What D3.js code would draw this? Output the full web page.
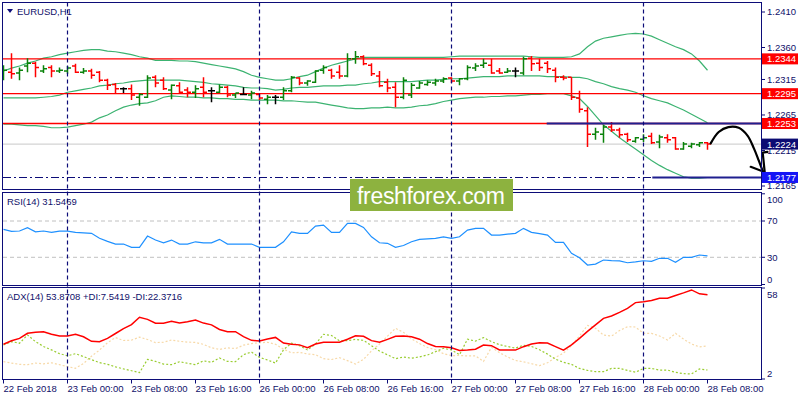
<!DOCTYPE html>
<html>
<head>
<meta charset="utf-8">
<script src="https://cdn.jsdelivr.net/npm/d3@7"></script>
<style>
  body { margin: 0; background: #ffffff; }
  svg { display: block; }
  text { font-family: "Liberation Sans", Arial, sans-serif; }
</style>
</head>
<body>
<div id="chart"></div>
<script>
// EURUSD H1 bars, 22 Feb 16:00 .. 28 Feb 08:00
var open = [1.2323,1.2325,1.2324,1.2334,1.2338,1.2327,1.2332,1.2327,1.2327,1.2334,
  1.2325,1.2327,1.2325,1.2314,1.2308,1.2302,1.2302,1.2290,1.2290,1.2318,
  1.2314,1.2300,1.2306,1.2300,1.2297,1.2304,1.2299,1.2297,1.2304,1.2293,
  1.2294,1.2293,1.2294,1.2287,1.2290,1.2290,1.2299,1.2317,1.2310,1.2311,
  1.2328,1.2328,1.2325,1.2320,1.2344,1.2347,1.2335,1.2320,1.2311,1.2304,
  1.2290,1.2293,1.2303,1.2308,1.2310,1.2313,1.2317,1.2313,1.2316,1.2331,
  1.2335,1.2335,1.2327,1.2325,1.2327,1.2324,1.2345,1.2338,1.2338,1.2328,
  1.2318,1.2318,1.2289,1.2271,1.2238,1.2238,1.2248,1.2244,1.2238,1.2228,
  1.2231,1.2235,1.2227,1.2233,1.2233,1.2217,1.2221,1.2223,1.2226];
var high = [1.2335,1.2352,1.2332,1.2345,1.2340,1.2335,1.2335,1.2332,1.2334,1.2337,
  1.2331,1.2330,1.2327,1.2316,1.2310,1.2304,1.2308,1.2296,1.2321,1.2321,
  1.2318,1.2308,1.2311,1.2304,1.2307,1.2318,1.2304,1.2308,1.2306,1.2296,
  1.2304,1.2299,1.2296,1.2293,1.2293,1.2304,1.2320,1.2318,1.2314,1.2328,
  1.2335,1.2330,1.2335,1.2352,1.2355,1.2349,1.2338,1.2327,1.2316,1.2311,
  1.2318,1.2310,1.2313,1.2314,1.2316,1.2318,1.2318,1.2317,1.2335,1.2338,
  1.2344,1.2344,1.2331,1.2331,1.2332,1.2347,1.2348,1.2344,1.2341,1.2332,
  1.2321,1.2318,1.2299,1.2276,1.2247,1.2251,1.2255,1.2247,1.2240,1.2234,
  1.2238,1.2240,1.2237,1.2238,1.2234,1.2227,1.2226,1.2227,1.2227];
var low = [1.2314,1.2316,1.2314,1.2325,1.2318,1.2324,1.2318,1.2324,1.2323,1.2324,
  1.2323,1.2316,1.2311,1.2300,1.2296,1.2296,1.2286,1.2278,1.2289,1.2304,
  1.2300,1.2287,1.2296,1.2290,1.2289,1.2290,1.2283,1.2296,1.2290,1.2289,
  1.2293,1.2287,1.2286,1.2280,1.2280,1.2286,1.2297,1.2307,1.2306,1.2310,
  1.2323,1.2316,1.2316,1.2318,1.2337,1.2335,1.2320,1.2304,1.2297,1.2276,
  1.2287,1.2289,1.2302,1.2306,1.2306,1.2310,1.2310,1.2307,1.2314,1.2327,
  1.2331,1.2323,1.2323,1.2324,1.2318,1.2321,1.2327,1.2327,1.2324,1.2311,
  1.2314,1.2286,1.2268,1.2220,1.2230,1.2226,1.2241,1.2233,1.2227,1.2226,
  1.2227,1.2224,1.2218,1.2226,1.2216,1.2216,1.2218,1.2220,1.2216];
var close = [1.2328,1.2323,1.2328,1.2338,1.2332,1.2330,1.2327,1.2328,1.2331,1.2325,
  1.2327,1.2321,1.2314,1.2307,1.2302,1.2302,1.2293,1.2294,1.2317,1.2310,
  1.2302,1.2307,1.2297,1.2297,1.2302,1.2297,1.2299,1.2304,1.2293,1.2296,
  1.2294,1.2296,1.2289,1.2290,1.2290,1.2299,1.2318,1.2310,1.2313,1.2327,
  1.2332,1.2320,1.2320,1.2344,1.2347,1.2337,1.2323,1.2306,1.2303,1.2290,
  1.2314,1.2307,1.2310,1.2311,1.2313,1.2316,1.2313,1.2316,1.2332,1.2334,
  1.2338,1.2324,1.2324,1.2327,1.2327,1.2344,1.2337,1.2332,1.2330,1.2318,
  1.2317,1.2290,1.2273,1.2238,1.2241,1.2248,1.2244,1.2237,1.2230,1.2233,
  1.2233,1.2226,1.2234,1.2230,1.2217,1.2224,1.2224,1.2226,1.2224];

// Bollinger bands
var bbUpper = [1.2327,1.2331,1.2334,1.2338,1.2341,1.2345,1.2347,1.2350,1.2352,1.2354,
  1.2356,1.2357,1.2357,1.2355,1.2354,1.2352,1.2350,1.2347,1.2345,1.2342,
  1.2342,1.2342,1.2341,1.2341,1.2340,1.2338,1.2336,1.2334,1.2332,1.2330,
  1.2326,1.2321,1.2318,1.2316,1.2314,1.2314,1.2316,1.2319,1.2321,1.2326,
  1.2331,1.2335,1.2338,1.2341,1.2344,1.2346,1.2346,1.2346,1.2346,1.2346,
  1.2346,1.2346,1.2346,1.2346,1.2346,1.2346,1.2347,1.2348,1.2348,1.2348,
  1.2348,1.2348,1.2348,1.2348,1.2348,1.2348,1.2347,1.2346,1.2346,1.2346,
  1.2346,1.2347,1.2351,1.2361,1.2369,1.2373,1.2375,1.2377,1.2379,1.2380,
  1.2379,1.2376,1.2371,1.2366,1.2361,1.2357,1.2351,1.2341,1.2328];
var bbMiddle = [1.2289,1.2289,1.2289,1.2289,1.2289,1.2290,1.2291,1.2293,1.2297,1.2299,
  1.2301,1.2303,1.2306,1.2307,1.2309,1.2310,1.2312,1.2313,1.2314,1.2314,
  1.2314,1.2314,1.2314,1.2313,1.2312,1.2311,1.2309,1.2308,1.2307,1.2306,
  1.2304,1.2303,1.2303,1.2302,1.2300,1.2301,1.2303,1.2304,1.2304,1.2305,
  1.2306,1.2306,1.2306,1.2307,1.2307,1.2309,1.2310,1.2312,1.2312,1.2312,
  1.2312,1.2312,1.2313,1.2314,1.2314,1.2315,1.2316,1.2316,1.2317,1.2318,
  1.2319,1.2319,1.2319,1.2320,1.2320,1.2320,1.2320,1.2320,1.2319,1.2319,
  1.2319,1.2318,1.2318,1.2316,1.2312,1.2309,1.2305,1.2302,1.2300,1.2297,
  1.2292,1.2288,1.2285,1.2282,1.2277,1.2272,1.2266,1.2260,1.2254];
var bbLower = [1.2252,1.2252,1.2251,1.2250,1.2250,1.2249,1.2247,1.2247,1.2248,1.2250,
  1.2252,1.2255,1.2261,1.2265,1.2271,1.2276,1.2279,1.2281,1.2282,1.2285,
  1.2290,1.2292,1.2291,1.2290,1.2290,1.2289,1.2289,1.2288,1.2288,1.2287,
  1.2287,1.2286,1.2286,1.2286,1.2286,1.2285,1.2285,1.2284,1.2283,1.2283,
  1.2281,1.2279,1.2277,1.2275,1.2274,1.2274,1.2275,1.2275,1.2276,1.2275,
  1.2275,1.2276,1.2278,1.2279,1.2281,1.2284,1.2286,1.2288,1.2289,1.2290,
  1.2290,1.2291,1.2291,1.2292,1.2292,1.2293,1.2294,1.2294,1.2295,1.2295,
  1.2295,1.2292,1.2288,1.2277,1.2264,1.2251,1.2242,1.2233,1.2225,1.2217,
  1.2209,1.2201,1.2194,1.2188,1.2183,1.2178,1.2176,1.2176,1.2177];

var rsi = [60.8,58.5,59,62.6,58.1,59,57.5,58.8,58.8,57.5,
  57,56.4,51,47.5,44.6,44.6,41,41,53.4,49,
  46,49,44.6,44.6,47.1,46,46,49.8,44.6,44.6,
  44.6,44.6,41,41,41,47.1,58.1,56.4,56.4,64.4,
  65.5,57.5,57.5,67.4,67.4,63,52.6,46,45.4,41,
  43,47.1,49.8,50.3,50.9,52.6,50.9,52.6,60,61.9,
  61.9,54.5,54.5,55.5,56.4,61.9,57.5,56,54.5,46.5,
  46.5,34.4,29.5,21.5,22.5,27,26.4,26,24,25,
  26.2,25.5,28.9,28.9,24.4,30,30,32.5,31.55];

var adx = [23.4,25.5,27,30.1,30.8,31,29.6,28.5,28.5,29.5,
  28,25.2,25,27,30,33,35.5,40,38.7,36.3,
  36.3,37.5,36.4,37.2,38.3,36.4,35.3,32.5,31.1,31.1,
  28.1,25.8,25.4,26.6,27.6,24.1,23.4,23,21.3,23.5,
  24.6,24.6,24.6,26.5,28.6,28.3,25.6,24.6,26.4,28.3,
  28.5,28,26.5,23.8,22,21.9,21.2,19.5,19.8,20.3,
  22.9,22.5,19.9,19.8,19.8,21.9,23.5,24.3,24.1,21.9,
  19.8,23,27,31.3,35.3,39.3,40.8,43,45.5,49,
  49.5,50.3,51.7,51.7,53.4,55,56.8,54.4,53.87];
var plusDI = [22.9,25,24,29.1,25,22,19.9,17.6,16.3,17.6,
  15.8,13.9,12.1,11,9.5,8.2,7.1,5.9,14.1,12.8,
  11.2,10.8,12.6,11.7,10.8,13.2,12.3,14.9,12.8,12.7,
  17,18.6,15.3,13.7,11.8,20,24.1,22.5,19.9,23.5,
  29.5,28.8,25.5,25.6,26.4,25.8,22.5,19.2,16.9,14.5,
  15.5,14.8,15.6,16.8,18.8,20.9,19.9,16.9,26.5,25.3,
  27.5,25,23.1,22,21,22.8,22,20,17.3,14.2,
  12.3,11,8.5,7.3,6.5,6.5,8.5,8.5,7.3,6.2,
  8.5,8.5,7.5,7.5,6.1,5.3,5.1,8.2,7.54];
var minusDI = [12.7,11.8,11,10.8,11.8,11.3,12,10.8,9.6,8.6,
  11.5,16,19.8,24.3,27.5,25.7,25.9,27.8,26.3,24.4,
  24.6,26,25.2,24.7,24.5,23.3,21.2,20.2,21.2,20.7,
  22.8,23.8,24.3,24.6,23.4,20.4,18.1,18.4,17.4,17,
  14.5,14,15.1,13.3,11.2,14.1,19.3,23.5,28.4,33.2,
  30.7,26.7,23.8,21.4,20,17.6,16.4,16.5,16.2,16.2,
  12.8,21.5,18.2,15.6,13.4,12.6,11.4,10.2,12,15.3,
  17.9,22.5,28.5,35,33.2,29,28.4,31.8,34.2,34,
  30.1,30.1,28.5,26,30.1,26.6,23.5,21.8,22.37];

// axis ticks
var priceTicks = [1.2410, 1.2360, 1.2315, 1.2265, 1.2215, 1.2165];
var rsiTicks = [100, 70, 30, 0];
var adxTicks = [58, 2];
var timeLabels = ["22 Feb 2018", "23 Feb 00:00", "23 Feb 08:00", "23 Feb 16:00", "26 Feb 00:00",
  "26 Feb 08:00", "26 Feb 16:00", "27 Feb 00:00", "27 Feb 08:00", "27 Feb 16:00", "28 Feb 00:00", "28 Feb 08:00"];
var timeLabelBars = [0, 8, 16, 24, 32, 40, 48, 56, 64, 72, 80, 88];
var dayBars = [8, 32, 56, 80];

// drawn objects
var redLevels = [1.2344, 1.2295, 1.2253];
var bidPrice = 1.2224;
var targetPrice = 1.2177;
var trendLines = [{price: 1.2253, fromBar: 67.9}, {price: 1.2177, fromBar: 81.1}];
var arrowBars =   [88.4, 89.4, 90.6, 91.9, 93.0, 93.8, 94.4, 94.9];
var arrowPrices = [1.2225, 1.2241, 1.2248, 1.2247, 1.2236, 1.2218, 1.2201, 1.2186];
var tags = [
  {price: 1.2344, bg: "#ff0000"}, {price: 1.2295, bg: "#ff0000"}, {price: 1.2253, bg: "#ff0000"},
  {price: 1.2224, bg: "#0b0b73"}, {price: 1.2177, bg: "#1414f5"}];

var navy = "#0c0c78";
var textCol = "#10106a";

var svg = d3.select("#chart").append("svg").attr("width", 800).attr("height", 400);

var plotL = 3, plotR = 761;
var panels = {
  main: {top: 2.5, bottom: 189.5},
  rsi: {top: 192.5, bottom: 285.5},
  adx: {top: 287.5, bottom: 379.5}
};

var x = d3.scaleLinear().domain([0, 88]).range([3.5, 707.5]);
var yP = d3.scaleLinear().domain([1.2165, 1.2410]).range([186, 12]);
var yR = d3.scaleLinear().domain([0, 100]).range([284.5, 193.8]);
var yA = d3.scaleLinear().domain([2, 58]).range([379, 288]);

// clip paths per panel
var defs = svg.append("defs");
Object.keys(panels).forEach(function(k) {
  var p = panels[k];
  defs.append("clipPath").attr("id", "clip-" + k)
    .append("rect").attr("x", plotL).attr("y", p.top)
    .attr("width", plotR - plotL).attr("height", p.bottom - p.top);
});
var blur = defs.append("filter").attr("id", "shadow").attr("x", "-5%").attr("y", "-200%")
  .attr("width", "110%").attr("height", "500%");
blur.append("feGaussianBlur").attr("stdDeviation", 2);

var gMain = svg.append("g").attr("clip-path", "url(#clip-main)");
var gRsi = svg.append("g").attr("clip-path", "url(#clip-rsi)");
var gAdx = svg.append("g").attr("clip-path", "url(#clip-adx)");

// day separators over all panels
svg.selectAll(".sep").data(dayBars).enter().append("line")
  .attr("x1", function(d) { return x(d); }).attr("x2", function(d) { return x(d); })
  .attr("y1", panels.main.top).attr("y2", panels.adx.bottom)
  .attr("stroke", navy).attr("stroke-width", 1.2).attr("stroke-dasharray", "4,3");

// bid line, target dash-dot
gMain.append("line").attr("x1", plotL).attr("x2", plotR)
  .attr("y1", yP(bidPrice)).attr("y2", yP(bidPrice)).attr("stroke", "#c8c8c8");
gMain.append("line").attr("x1", plotL).attr("x2", plotR)
  .attr("y1", yP(targetPrice)).attr("y2", yP(targetPrice))
  .attr("stroke", navy).attr("stroke-width", 1.2).attr("stroke-dasharray", "8,3,2,3");

// Bollinger bands
var bandLine = function(arr) {
  return d3.line().x(function(d, i) { return x(i); }).y(function(d) { return yP(d); })(arr);
};
[bbUpper, bbMiddle, bbLower].forEach(function(arr) {
  gMain.append("path").attr("d", bandLine(arr)).attr("fill", "none")
    .attr("stroke", "#3cb371").attr("stroke-width", 1.2);
});

// red levels
gMain.selectAll(".lvl").data(redLevels).enter().append("line")
  .attr("x1", plotL).attr("x2", plotR)
  .attr("y1", function(d) { return yP(d); }).attr("y2", function(d) { return yP(d); })
  .attr("stroke", "#ff0000").attr("stroke-width", 1.3);

// OHLC bars
var bars = d3.range(open.length).map(function(i) {
  return {i: i, o: open[i], h: high[i], l: low[i], c: close[i]};
});
var barColor = function(d) {
  if (d.c > d.o) return "#0a820a";
  if (d.c < d.o) return "#ff0000";
  return "#000000";
};
var gb = gMain.selectAll(".bar").data(bars).enter().append("g")
  .attr("stroke", barColor).attr("stroke-width", 1.5);
gb.append("line")
  .attr("x1", function(d) { return x(d.i); }).attr("x2", function(d) { return x(d.i); })
  .attr("y1", function(d) { return yP(d.h); }).attr("y2", function(d) { return yP(d.l); });
gb.append("line")
  .attr("x1", function(d) { return x(d.i) - 3.5; }).attr("x2", function(d) { return x(d.i); })
  .attr("y1", function(d) { return yP(d.o); }).attr("y2", function(d) { return yP(d.o); });
gb.append("line")
  .attr("x1", function(d) { return x(d.i); }).attr("x2", function(d) { return x(d.i) + 3.5; })
  .attr("y1", function(d) { return yP(d.c); }).attr("y2", function(d) { return yP(d.c); });

// drawn trend lines with soft shadow
trendLines.forEach(function(t) {
  gMain.append("line").attr("x1", x(t.fromBar)).attr("x2", plotR)
    .attr("y1", yP(t.price) + 3).attr("y2", yP(t.price) + 3)
    .attr("stroke", "#9a9a9a").attr("stroke-width", 3).attr("filter", "url(#shadow)");
  gMain.append("line").attr("x1", x(t.fromBar)).attr("x2", plotR)
    .attr("y1", yP(t.price)).attr("y2", yP(t.price))
    .attr("stroke", "#1f1f8f").attr("stroke-width", 2);
});

// hand drawn arrow
var arrowPts = arrowBars.map(function(b, i) { return [x(b), yP(arrowPrices[i])]; });
svg.append("path").attr("d", d3.line().curve(d3.curveCatmullRom)(arrowPts))
  .attr("fill", "none").attr("stroke", "#000").attr("stroke-width", 2.2).attr("stroke-linecap", "round");
var tip = arrowPts[arrowPts.length - 1];
svg.append("path")
  .attr("d", d3.line()([[x(93.4), yP(1.2192)], [tip[0] + 2, tip[1] + 1], [x(94.9), yP(1.2212)], [x(95.5), yP(1.2213)]]))
  .attr("fill", "none").attr("stroke", "#000").attr("stroke-width", 2.2)
  .attr("stroke-linecap", "round").attr("stroke-linejoin", "round");

// RSI panel
gRsi.selectAll(".rl").data([70, 30]).enter().append("line")
  .attr("x1", plotL).attr("x2", plotR)
  .attr("y1", function(d) { return yR(d); }).attr("y2", function(d) { return yR(d); })
  .attr("stroke", "#c0c0c0").attr("stroke-dasharray", "4,3");
gRsi.append("path")
  .attr("d", d3.line().x(function(d, i) { return x(i); }).y(function(d) { return yR(d); })(rsi))
  .attr("fill", "none").attr("stroke", "#1e90ff").attr("stroke-width", 1.2);

// ADX panel
var adxLine = function(arr) {
  return d3.line().x(function(d, i) { return x(i); }).y(function(d) { return yA(d); })(arr);
};
gAdx.append("path").attr("d", adxLine(minusDI)).attr("fill", "none")
  .attr("stroke", "#f7d9a8").attr("stroke-width", 1.2).attr("stroke-dasharray", "2,2");
gAdx.append("path").attr("d", adxLine(plusDI)).attr("fill", "none")
  .attr("stroke", "#9acd32").attr("stroke-width", 1.2).attr("stroke-dasharray", "2,2");
gAdx.append("path").attr("d", adxLine(adx)).attr("fill", "none")
  .attr("stroke", "#ff0000").attr("stroke-width", 1.5);

// panel frames
Object.keys(panels).forEach(function(k) {
  var p = panels[k];
  svg.append("rect").attr("x", plotL - 0.5).attr("y", p.top)
    .attr("width", plotR - plotL + 0.5).attr("height", p.bottom - p.top)
    .attr("fill", "none").attr("stroke", navy).attr("stroke-width", 1)
    .attr("shape-rendering", "crispEdges");
});

// panel captions
svg.append("path").attr("d", "M7,9 L13,9 L10,13 Z").attr("fill", navy);
svg.append("text").attr("x", 17).attr("y", 15).attr("font-size", 9.5).attr("fill", textCol).text("EURUSD,H1");
svg.append("text").attr("x", 7).attr("y", 205).attr("font-size", 9.5).attr("fill", textCol).text("RSI(14) 31.5469");
svg.append("text").attr("x", 7).attr("y", 300).attr("font-size", 9.5).attr("fill", textCol)
  .text("ADX(14) 53.8708 +DI:7.5419 -DI:22.3716");

// right axis
var axisG = svg.append("g");
function rightTicks(vals, scale, fmt, top, bottom) {
  var g = axisG.append("g");
  g.selectAll("line").data(vals).enter().append("line")
    .attr("x1", plotR).attr("x2", plotR + 4)
    .attr("y1", function(d) { return scale(d); }).attr("y2", function(d) { return scale(d); })
    .attr("stroke", navy);
  g.selectAll("text").data(vals).enter().append("text")
    .attr("x", plotR + 6)
    .attr("y", function(d) { return Math.min(Math.max(scale(d), top + 7), bottom - 6); })
    .attr("dy", "0.35em").attr("font-size", 9.5).attr("fill", textCol)
    .text(function(d) { return String(fmt(d)); });
}
rightTicks(priceTicks, yP, function(d) { return d.toFixed(4); }, 0, 400);
rightTicks(rsiTicks, yR, function(d) { return d; }, panels.rsi.top, panels.rsi.bottom);
rightTicks(adxTicks, yA, function(d) { return d; }, panels.adx.top, panels.adx.bottom);

// price tags
var tg = svg.selectAll(".tag").data(tags).enter().append("g");
tg.append("rect").attr("x", plotR + 1).attr("y", function(d) { return yP(d.price) - 5.5; })
  .attr("width", 36).attr("height", 11).attr("fill", function(d) { return d.bg; });
tg.append("text").attr("x", plotR + 6).attr("y", function(d) { return yP(d.price); })
  .attr("dy", "0.36em").attr("font-size", 9.5).attr("fill", "#fff")
  .text(function(d) { return d.price.toFixed(4); });

// time axis
svg.selectAll(".tt").data(timeLabelBars).enter().append("line")
  .attr("x1", function(d) { return x(d); }).attr("x2", function(d) { return x(d); })
  .attr("y1", panels.adx.bottom).attr("y2", panels.adx.bottom + 4).attr("stroke", navy);
svg.selectAll(".tl").data(timeLabels).enter().append("text")
  .attr("x", function(d, i) { return x(timeLabelBars[i]); })
  .attr("y", 392).attr("font-size", 9.5).attr("fill", textCol)
  .text(function(d) { return d; });

// watermark
svg.append("rect").attr("x", 350).attr("y", 179).attr("width", 163).attr("height", 32).attr("fill", "#8db23f");
svg.append("text").attr("x", 357).attr("y", 204).attr("font-family", "'Open Sans', sans-serif")
  .attr("font-size", 23).attr("fill", "#ffffff").attr("textLength", 148).text("freshforex.com");
</script>
</body>
</html>
